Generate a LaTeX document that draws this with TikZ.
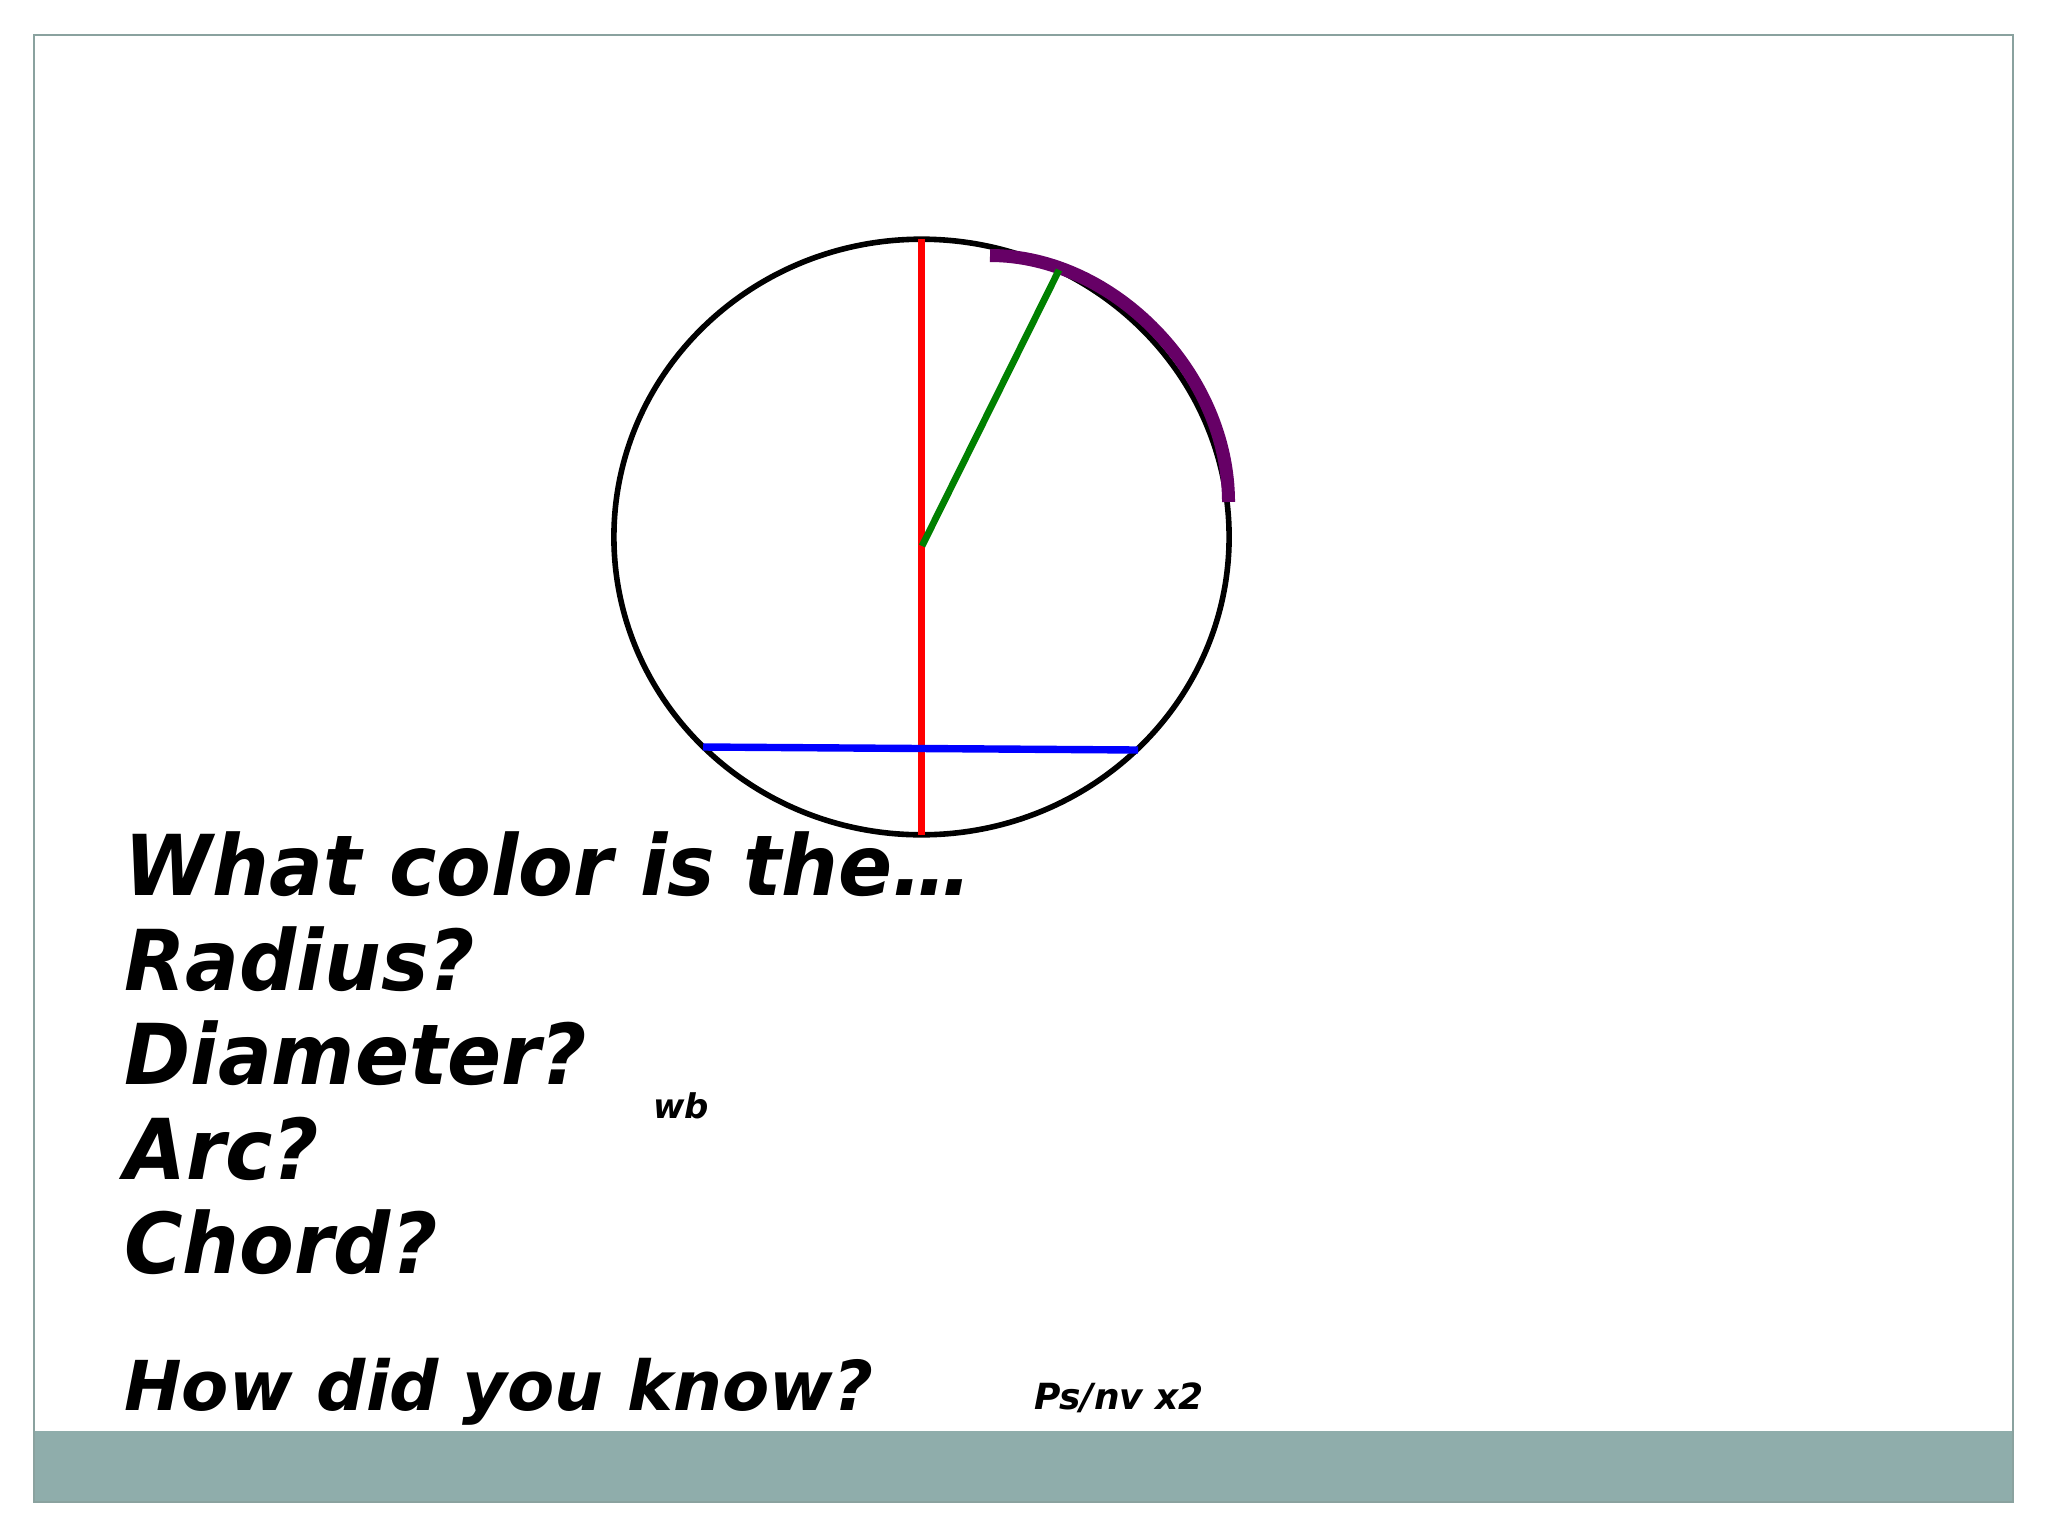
\documentclass[tikz,border=0pt]{standalone}
\usepackage{fontspec}
\setmainfont{DejaVu Sans}
\newfontfamily\narrowfont[FakeStretch=0.95]{DejaVu Sans}
\definecolor{framec}{HTML}{8AA29F}
\definecolor{barc}{HTML}{8FADAB}
\definecolor{arcc}{HTML}{660066}
\definecolor{greenc}{HTML}{008000}
\tikzset{
  bigtxt/.style={anchor=base west, inner sep=0pt, font=\narrowfont\fontsize{42}{50}\selectfont\bfseries\itshape},
  midtxt/.style={anchor=base west, inner sep=0pt, font=\fontsize{34.4}{40}\selectfont\bfseries\itshape},
  smalltxt/.style={anchor=base west, inner sep=0pt, font=\fontsize{17}{20}\selectfont\bfseries\itshape},
  notetxt/.style={anchor=base west, inner sep=0pt, font=\fontsize{18}{21}\selectfont\bfseries\itshape},
}
\begin{document}
\begin{tikzpicture}[x=0.5pt,y=-0.5pt]
\useasboundingbox (0,0) rectangle (2048,1536);
\fill[white] (0,0) rectangle (2048,1536);
% bottom bar and frame
\fill[barc] (34,1431) rectangle (2013,1502);
\draw[framec, line width=1.1pt] (34,35) rectangle (2013,1502);
% circle
\coordinate (c) at (921.5,537);
\draw[black, line width=2.8pt] (c) ellipse [x radius=307.6, y radius=297.8];
% purple arc
\coordinate (arcstart) at (990,255.5);
\coordinate (arcend) at (1228.5,502);
\draw[arcc, line width=6.5pt] (arcstart) .. controls +(124,0) and +(0,-128) .. (arcend);
% diameter (red)
\coordinate (dtop) at (921.5,239);
\coordinate (dbot) at (921.5,835);
\draw[red, line width=3.7pt] (dtop) -- (dbot);
% radius (green)
\coordinate (rc) at (922,546);
\coordinate (rend) at (1059,270);
\draw[greenc, line width=3.4pt] (rc) -- (rend);
% chord (blue)
\coordinate (ch1) at (703,747);
\coordinate (ch2) at (1138,750);
\draw[blue, line width=3.7pt] (ch1) -- (ch2);
% texts
\node[bigtxt] (t1) at (124,895) {What color is the…};
\node[bigtxt] (t2) at (124,990) {Radius?};
\node[bigtxt] (t3) at (124,1084) {Diameter?};
\node[bigtxt] (t4) at (124,1179) {Arc?};
\node[bigtxt] (t5) at (124,1273) {Chord?};
\node[midtxt] (t6) at (124,1410) {How did you know?};
\node[smalltxt] (wb) at (653,1118) {wb};
\node[notetxt] (ps) at (1034,1409) {Ps/nv x2};
\end{tikzpicture}
\end{document}
